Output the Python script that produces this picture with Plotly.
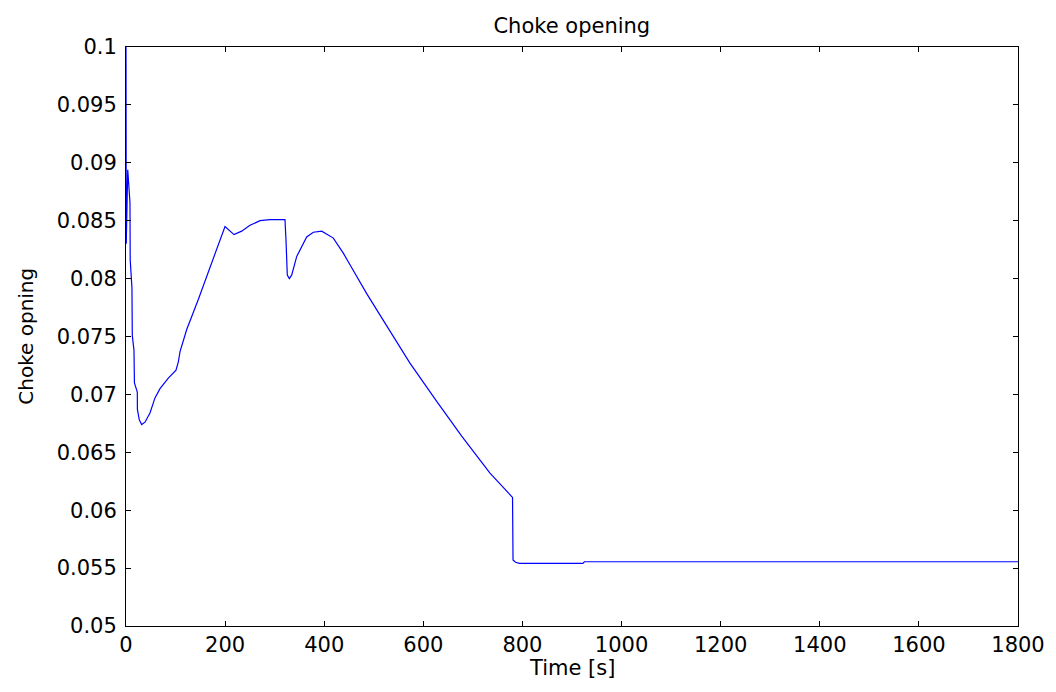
import plotly.graph_objects as go

time_s = [0, 0.5, 3.5, 5, 8, 8.5, 10.5, 12, 12.7, 16.1, 17, 21, 22.8, 23, 26.8, 31.6,
          38.3, 48.4, 58.5, 68.6, 85.4, 100.9, 105.6, 109, 122.5, 145.9, 185.6, 199.8,
          218, 233.4, 250.2, 270.4, 290.6, 320.8, 322.9, 325.5, 329.6, 334.3, 344.4,
          351, 364.6, 378, 395, 418.4, 438.5, 452, 485.7, 529.3, 573, 627, 677.4,
          734.5, 774.9, 780, 781, 786, 794, 922, 925, 1800]
choke = [0.1, 0.083, 0.0894, 0.0880, 0.0866, 0.0816, 0.0800, 0.0792, 0.0751, 0.0738,
         0.0710, 0.0704, 0.0702, 0.0687, 0.0678, 0.0674, 0.0676, 0.0684, 0.0697, 0.0705,
         0.0714, 0.0721, 0.0728, 0.0737, 0.0756, 0.0782, 0.0828, 0.0845, 0.0838, 0.0841,
         0.0846, 0.0850, 0.0851, 0.0851, 0.0833, 0.0803, 0.0800, 0.0803, 0.0819, 0.0825,
         0.0836, 0.0840, 0.0841, 0.0835, 0.0822, 0.0812, 0.0787, 0.0757, 0.0727, 0.0694,
         0.0664, 0.0632, 0.0613, 0.0611, 0.0557, 0.0555, 0.05541, 0.05541, 0.05555, 0.05555]

x_ticks = [0, 200, 400, 600, 800, 1000, 1200, 1400, 1600, 1800]
y_ticks = [0.05, 0.055, 0.06, 0.065, 0.07, 0.075, 0.08, 0.085, 0.09, 0.095, 0.1]
y_tick_labels = ["0.05", "0.055", "0.06", "0.065", "0.07", "0.075", "0.08", "0.085",
                 "0.09", "0.095", "0.1"]

FONT = "DejaVu Sans, Liberation Sans, Arial, sans-serif"

fig = go.Figure()
fig.add_trace(go.Scatter(x=time_s, y=choke, mode="lines",
                         line=dict(color="#0000ff", width=1.2), showlegend=False))

axis_common = dict(showline=True, linecolor="black", linewidth=1, mirror="ticks",
                   ticks="inside", ticklen=5, tickcolor="black", showgrid=False,
                   zeroline=False, tickfont=dict(family=FONT, size=21, color="black"))

fig.update_layout(
    width=1056, height=692,
    margin=dict(l=126, r=38, t=47, b=66),
    paper_bgcolor="white", plot_bgcolor="white",
    title=dict(text="Choke opening", x=0.5415, xanchor="center", y=0.963, yanchor="middle",
               font=dict(family=FONT, size=21, color="black")),
    xaxis=dict(range=[0, 1800], tickvals=x_ticks, ticktext=[str(v) for v in x_ticks],
               **axis_common),
    yaxis=dict(range=[0.05, 0.1], tickvals=y_ticks, ticktext=y_tick_labels,
               ticklabelstandoff=4, **axis_common),
    annotations=[
        dict(text="Time [s]", xref="paper", yref="paper", x=0.5, y=-0.048,
             xanchor="center", yanchor="top", showarrow=False,
             font=dict(family=FONT, size=21, color="black")),
        dict(text="Choke opning", xref="paper", yref="paper", x=-0.113, y=0.5,
             xanchor="center", yanchor="middle", textangle=-90, showarrow=False,
             font=dict(family=FONT, size=20, color="black")),
    ],
)

fig.write_html("out.html")
